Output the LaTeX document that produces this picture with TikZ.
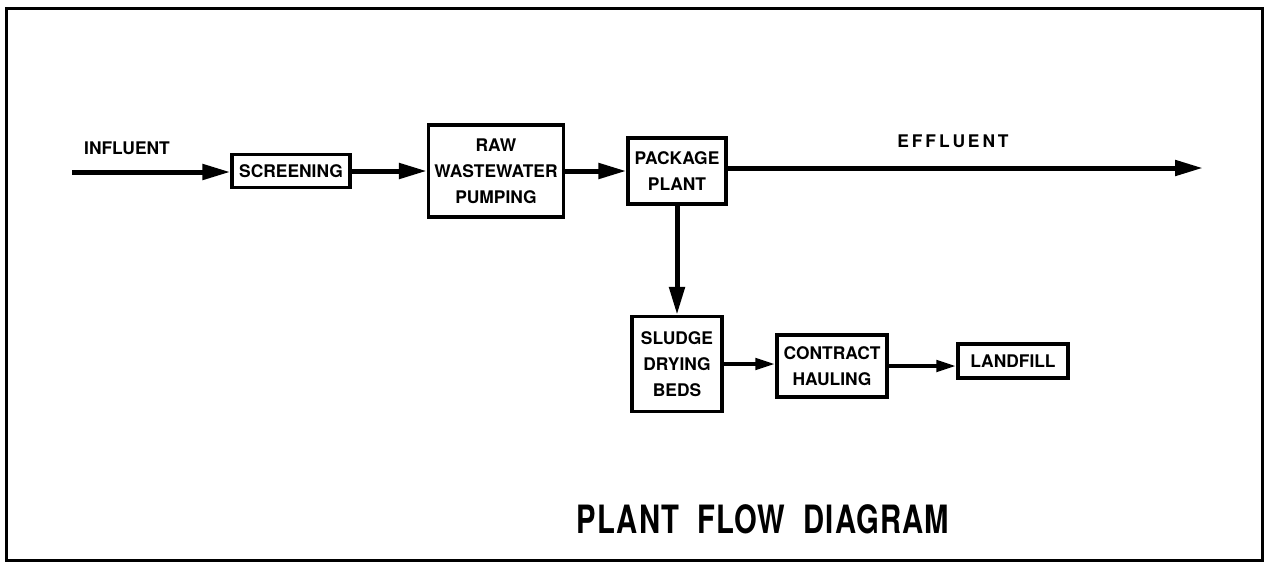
\documentclass[tikz,border=0pt]{standalone}
\usepackage{fontspec}
\setmainfont{TeX Gyre Heros}
\newfontfamily\titlefont{TeX Gyre Heros}[FakeStretch=0.75,LetterSpace=3]
\usetikzlibrary{arrows.meta}

\begin{document}
\begin{tikzpicture}[
  x=0.5pt, y=-0.5pt,
  every node/.style={font=\bfseries\fontsize{8.7}{13}\selectfont, inner sep=1pt, align=center},
  stage/.style={draw, line width=1.6pt},
  flow/.style={draw, -{Triangle[length=14pt,width=7.5pt]}, line width=2.5pt},
  minor flow/.style={draw, -{Triangle[length=10pt,width=5.5pt]}, line width=2.2pt}
]
\useasboundingbox (0,0) rectangle (1272,563);
\draw[line width=1.5pt] (6,8) rectangle (1262,560);

% process boxes
\node[stage, minimum width=59pt, minimum height=16.5pt] (screen) at (291,171) {SCREENING};
\node[stage, minimum width=67.5pt, minimum height=46pt] (raw) at (496,171) {RAW\\WASTEWATER\\PUMPING};
\node[stage, minimum width=49pt, minimum height=33pt] (pack) at (677,171) {PACKAGE\\PLANT};
\node[stage, minimum width=45pt, minimum height=47.5pt] (sludge) at (677,364) {SLUDGE\\DRYING\\BEDS};
\node[stage, minimum width=55pt, minimum height=31pt] (haul) at (832,366) {CONTRACT\\HAULING};
\node[stage, minimum width=55pt, minimum height=17pt] (fill) at (1013,361) {LANDFILL};

% free ends and labels
\coordinate (in) at (72,172);
\coordinate (out) at (1203,168);
\node (inlabel) at (127,148) {INFLUENT};
\node (outlabel) at (953,141) {E\,F\,F\,L\,U\,E\,N\,T};
\node[font=\titlefont\bfseries\fontsize{19.5}{22}\selectfont] (title) at (763,519)
  {PLANT\hspace{9pt}FLOW\hspace{9pt}DIAGRAM};

% main flow
\draw[flow] (in) -- (in -| screen.west);
\draw[flow] (screen) -- (raw);
\draw[flow] (raw) -- (pack);
\draw[flow] (pack.east |- out) -- (out);

% sludge line
\draw[flow] (pack) -- (sludge);
\draw[minor flow] (sludge.east) -- (sludge.east -| haul.west);
\draw[minor flow] (haul.east) -- (haul.east -| fill.west);

\end{tikzpicture}
\end{document}
